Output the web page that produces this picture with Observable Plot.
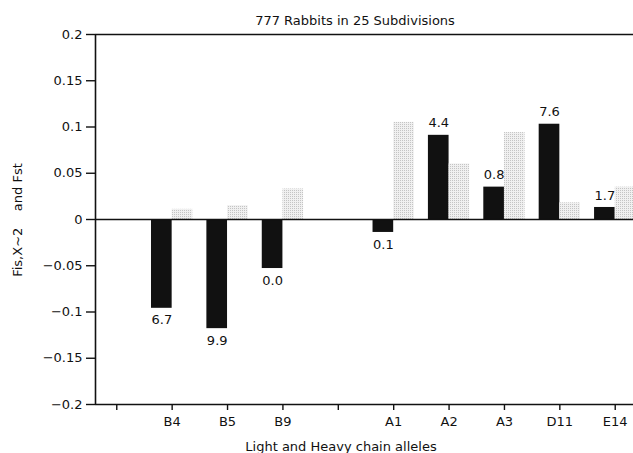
<!DOCTYPE html>
<html>
<head>
<meta charset="utf-8">
<script src="https://cdn.jsdelivr.net/npm/d3@7"></script>
<script src="https://cdn.jsdelivr.net/npm/@observablehq/plot@0.6"></script>
<style>
  html, body { margin: 0; padding: 0; background: #fff; overflow: hidden; }
  #wrap { position: relative; width: 633px; height: 453px; font-family: "DejaVu Sans", sans-serif; color: #111; }
  .lbl { position: absolute; font-size: 13px; white-space: pre; line-height: 1; }
  #title { left: 355px; top: 14px; transform: translateX(-50%); }
  #xlabel { left: 341px; top: 440px; transform: translateX(-50%); }
  #ylabel { left: 17px; top: 220px; transform: translate(-50%, -50%) rotate(-90deg); }
</style>
</head>
<body>
<div id="wrap">
  <div id="chart"></div>
  <div class="lbl" id="title">777 Rabbits in 25 Subdivisions</div>
  <div class="lbl" id="xlabel">Light and Heavy chain alleles</div>
  <div class="lbl" id="ylabel">Fis,X~2    and Fst</div>
</div>
<script>
// Tick slots along the x axis (blank slots are unlabeled ticks)
const tickLabels = ["", "B4", "B5", "B9", "", "A1", "A2", "A3", "D11", "E14"];
// Alleles
const categories = ["B4", "B5", "B9", "A1", "A2", "A3", "D11", "E14"];
// Fis (black bars)
const fis = [-0.096, -0.118, -0.053, -0.014, 0.091, 0.035, 0.103, 0.013];
// Fst (dotted grey bars)
const fst = [0.011, 0.015, 0.033, 0.105, 0.060, 0.094, 0.018, 0.035];
// Chi-square labels
const chi = ["6.7", "9.9", "0.0", "0.1", "4.4", "0.8", "7.6", "1.7"];
// Y ticks
const yTicks = [-0.2, -0.15, -0.1, -0.05, 0, 0.05, 0.1, 0.15, 0.2];

const xDomain = [-0.384, 9.33];
const barW = 0.373;

const data = categories.map((c, k) => ({
  cat: c, i: tickLabels.indexOf(c), fis: fis[k], fst: fst[k], chi: chi[k]
}));

const fmt = d => String(d).replace("-", "\u2212");

const plot = Plot.plot({
  width: 633,
  height: 453,
  marginTop: 34,
  marginBottom: 49,
  marginLeft: 95,
  marginRight: 0,
  style: { fontFamily: "DejaVu Sans, sans-serif", fontSize: "13px", color: "#111", background: "white", overflow: "visible" },
  x: { type: "linear", domain: xDomain },
  y: { domain: [yTicks[0], yTicks[yTicks.length - 1]] },
  marks: [
    Plot.rectY(data, { x1: d => d.i - barW, x2: d => d.i, y: "fis", fill: "#111" }),
    Plot.rectY(data, { x1: d => d.i, x2: d => d.i + barW, y: "fst", fill: "url(#dots)" }),
    Plot.ruleY([yTicks[0], 0, yTicks[yTicks.length - 1]], { stroke: "#111", strokeWidth: 1.6 }),
    Plot.ruleX([xDomain[0]], { stroke: "#111", strokeWidth: 1.6 }),
    Plot.axisY({ ticks: yTicks, tickFormat: fmt, tickSize: 9, tickPadding: 4, label: null, strokeWidth: 1.4, fontSize: 13 }),
    Plot.axisX({ ticks: d3.range(tickLabels.length), tickFormat: i => tickLabels[i], tickSize: 6, tickPadding: 6, label: null, strokeWidth: 1.4, fontSize: 13 }),
    Plot.text(data.filter(d => d.fis < 0), { x: d => d.i - barW / 2, y: "fis", text: "chi", dy: 12, fill: "#111", fontSize: 13 }),
    Plot.text(data.filter(d => d.fis >= 0), { x: d => d.i - barW / 2, y: "fis", text: "chi", dy: -12, fill: "#111", fontSize: 13 })
  ]
});

// dotted pattern for the Fst bars
const defs = document.createElementNS("http://www.w3.org/2000/svg", "defs");
defs.innerHTML = `<pattern id="dots" width="2" height="2" patternUnits="userSpaceOnUse">
  <rect width="2" height="2" fill="#f0f0f0"></rect>
  <rect width="1" height="1" fill="#c4c4c4"></rect>
</pattern>`;
plot.insertBefore(defs, plot.firstChild);

document.getElementById("chart").appendChild(plot);
</script>
</body>
</html>
